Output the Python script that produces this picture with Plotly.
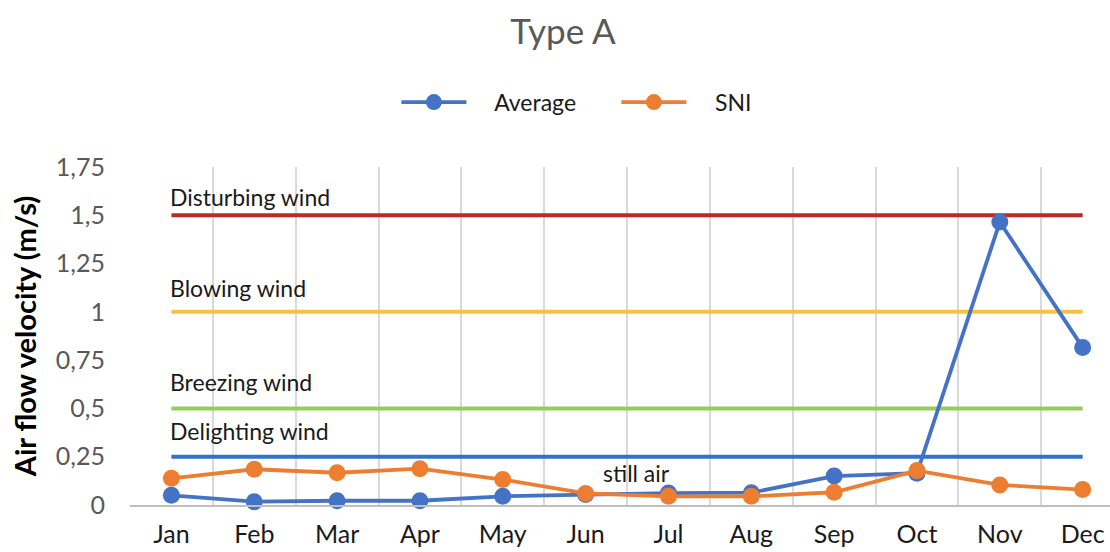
import plotly.graph_objects as go

months = ["Jan", "Feb", "Mar", "Apr", "May", "Jun", "Jul", "Aug", "Sep", "Oct", "Nov", "Dec"]
average = [0.05, 0.017, 0.022, 0.022, 0.045, 0.055, 0.062, 0.064, 0.15, 0.165, 1.465, 0.816]
sni = [0.138, 0.185, 0.167, 0.188, 0.132, 0.06, 0.045, 0.045, 0.066, 0.178, 0.104, 0.08]

threshold_names = ["Disturbing wind", "Blowing wind", "Breezing wind", "Delighting wind"]
threshold_values = [1.5, 1.0, 0.5, 0.25]
threshold_colors = ["#BE2A22", "#F7C242", "#96CD5A", "#2F74C9"]
threshold_label_shift = [2, 8, 10, 10]

still_air_label = "still air"
still_air_pos = (5.62, 0.166)

ytick_vals = [0, 0.25, 0.5, 0.75, 1.0, 1.25, 1.5, 1.75]
ytick_text = ["0", "0,25", "0,5", "0,75", "1", "1,25", "1,5", "1,75"]

FONT = "Lato, Carlito, 'Open Sans', sans-serif"
NB = "\u00a0"

fig = go.Figure()

for name, val, col in zip(threshold_names, threshold_values, threshold_colors):
    fig.add_trace(go.Scatter(
        x=months, y=[val] * len(months), mode="lines",
        line=dict(color=col, width=4), showlegend=False, hoverinfo="skip",
    ))

fig.add_trace(go.Scatter(
    x=months, y=average, mode="lines+markers", name=NB * 4 + "Average" + NB * 6,
    line=dict(color="#4472C4", width=3.8), marker=dict(size=17, color="#4472C4"),
    cliponaxis=False,
))
fig.add_trace(go.Scatter(
    x=months, y=sni, mode="lines+markers", name=NB * 4 + "SNI",
    line=dict(color="#ED7D31", width=3.8), marker=dict(size=17, color="#ED7D31"),
    cliponaxis=False,
))

annotations = []
for name, val, sh in zip(threshold_names, threshold_values, threshold_label_shift):
    annotations.append(dict(
        x=0, y=val, xref="x", yref="y", text=name, showarrow=False,
        xanchor="left", yanchor="bottom", xshift=-3, yshift=sh,
        font=dict(family=FONT, size=23, color="#1a1a1a"),
    ))
annotations.append(dict(
    x=still_air_pos[0], y=still_air_pos[1], xref="x", yref="y", text=still_air_label,
    showarrow=False, xanchor="center", yanchor="middle",
    font=dict(family=FONT, size=23, color="#1a1a1a"),
))

fig.update_layout(
    width=1110, height=552,
    margin=dict(l=130, r=0, t=167, b=47),
    paper_bgcolor="white", plot_bgcolor="white",
    font=dict(family=FONT, size=23, color="#595959"),
    title=dict(text="Type A", x=563 / 1110, xanchor="center", y=1 - 32 / 552, yanchor="middle",
               xref="container", yref="container",
               font=dict(family=FONT, size=35, color="#595959")),
    legend=dict(orientation="h", x=0.456, xanchor="center", y=1.192, yanchor="middle",
                font=dict(family=FONT, size=23, color="#1a1a1a"), itemwidth=65,
                bgcolor="rgba(0,0,0,0)"),
    annotations=annotations,
    showlegend=True,
)

fig.update_xaxes(
    type="category", categoryorder="array", categoryarray=months,
    range=[-0.5, 11.33], tickson="boundaries", ticks="",
    showgrid=True, gridcolor="#D9D9D9", gridwidth=1.5,
    showline=True, linecolor="#BFBFBF", linewidth=1.5,
    tickfont=dict(family=FONT, size=25, color="#1a1a1a"), ticklabelstandoff=6,
    zeroline=False,
)
fig.update_yaxes(
    range=[0, 1.75], tickvals=ytick_vals, ticktext=ytick_text,
    showgrid=False, zeroline=False, showline=False, ticks="",
    tickfont=dict(family=FONT, size=25, color="#595959"), ticklabelstandoff=24,
    title=dict(text="<b>Air flow velocity (m/s)</b>", standoff=10,
               font=dict(family=FONT, size=29, color="#000000")),
)

fig.write_html("out.html", config={"displayModeBar": False},
               post_script="document.body.style.margin='0';document.body.style.overflow='hidden';")
